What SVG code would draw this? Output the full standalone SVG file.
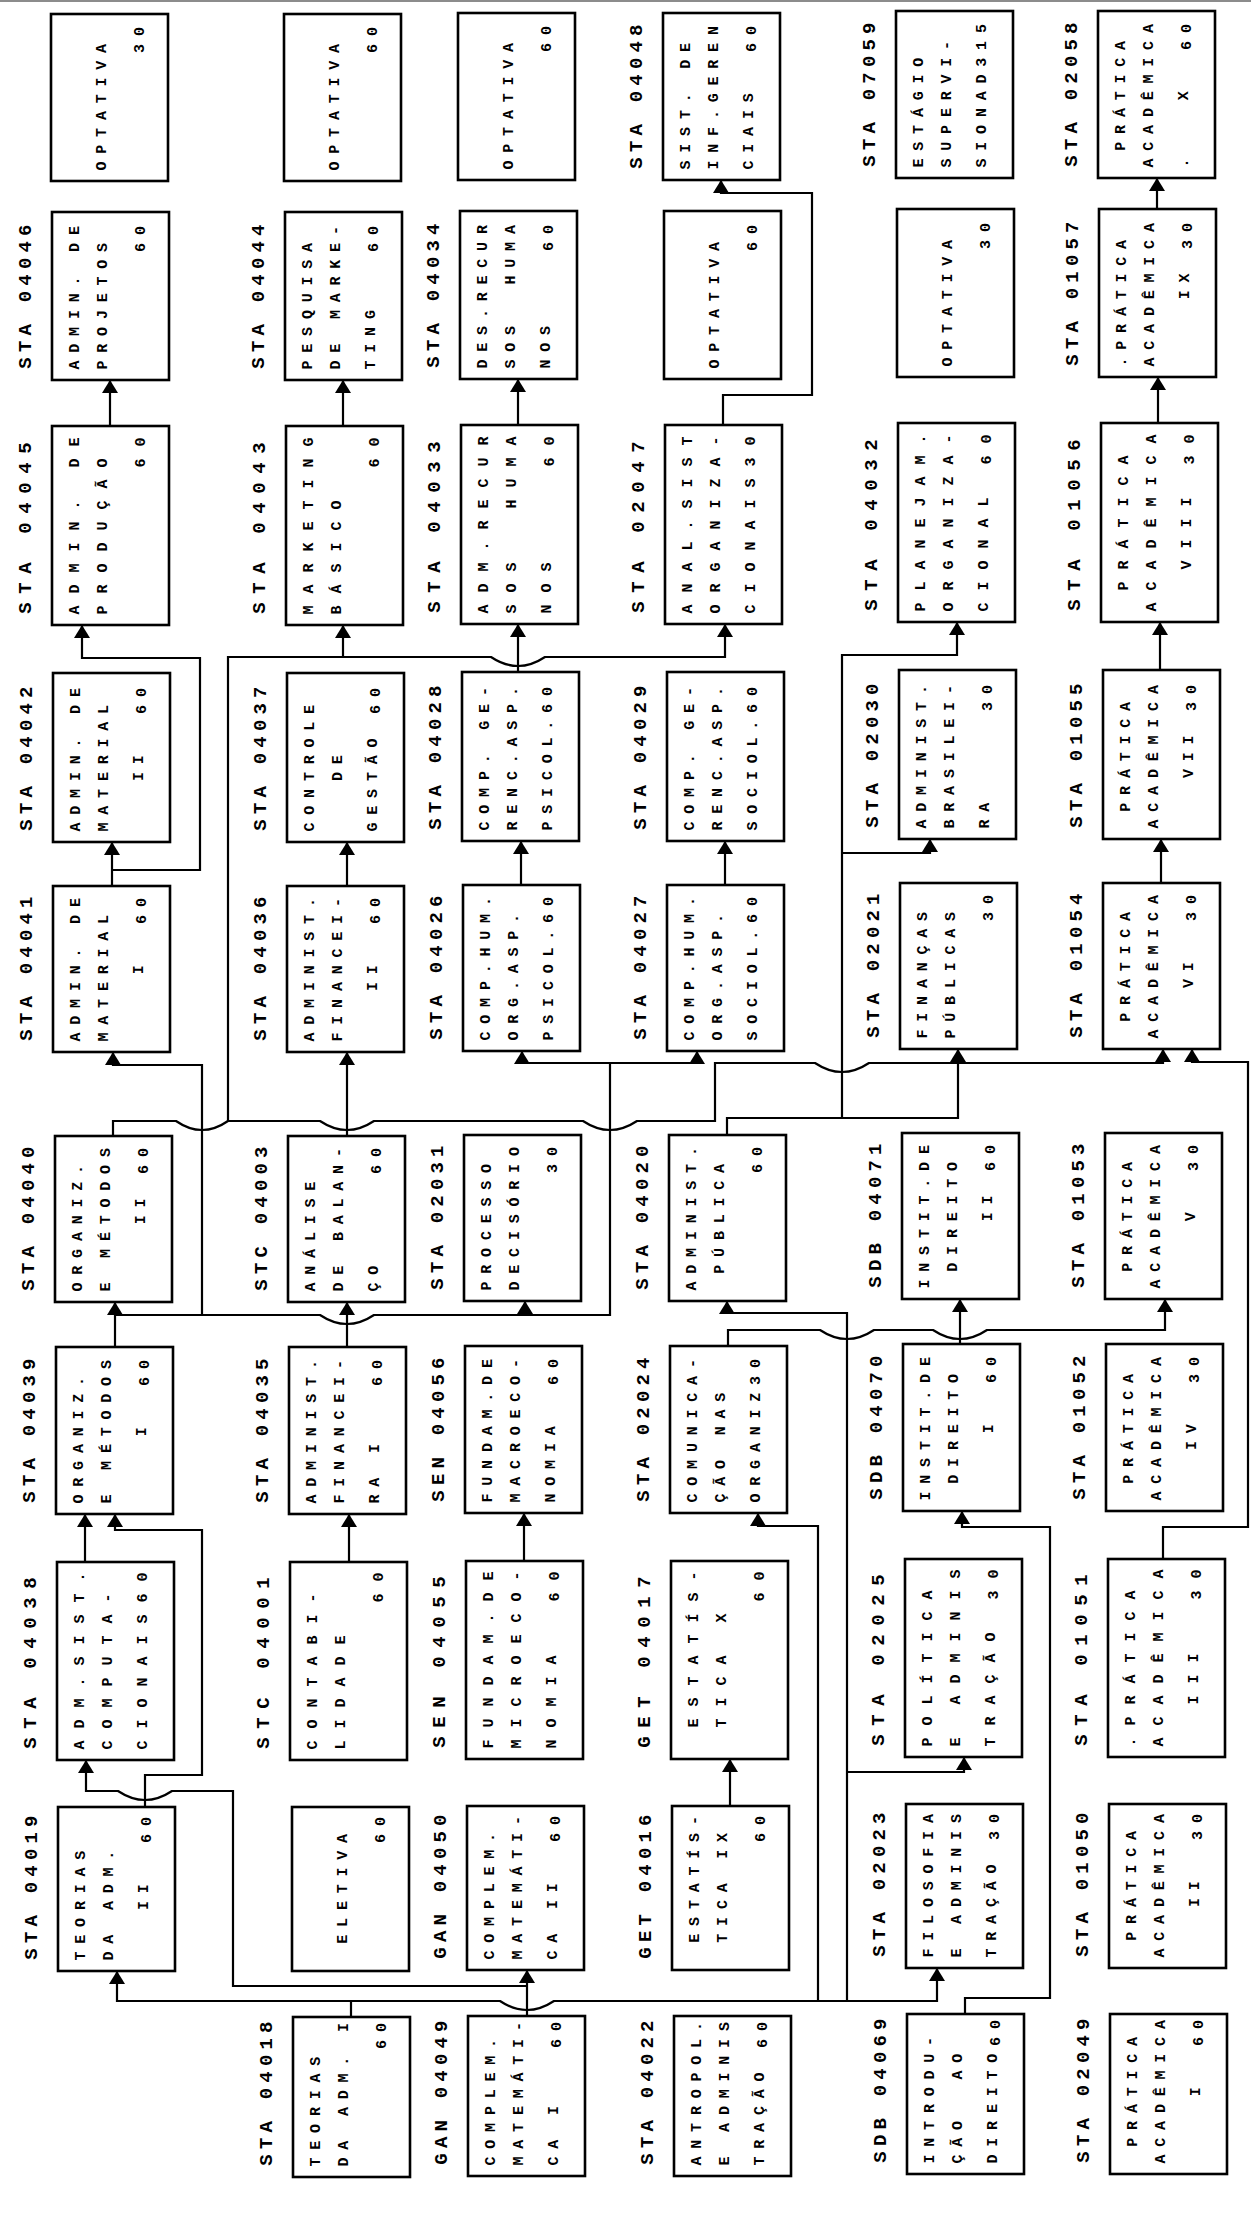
<svg xmlns="http://www.w3.org/2000/svg" xmlns:xlink="http://www.w3.org/1999/xlink" width="1251" height="2221" viewBox="0 0 1251 2221">
<style>
text{font-family:"Liberation Mono","DejaVu Sans Mono",monospace;font-weight:bold;fill:#000;white-space:pre}
.t{font-size:15px;letter-spacing:7.8px}
.tt{font-size:15px;letter-spacing:12px}
.l{font-size:19px;letter-spacing:5.2px}
.lt{font-size:19px;letter-spacing:8.6px}
.b{fill:#fff;stroke:#000;stroke-width:2.6}
.c{fill:none;stroke:#000;stroke-width:2.2}
</style>
<defs><path id="ah" d="M0,0 L-8,13 L8,13 Z" fill="#000"/></defs>
<rect x="0" y="0" width="1251" height="2221" fill="#fff"/>
<line x1="0" y1="1" x2="1251" y2="1" stroke="#666" stroke-width="1.5"/>

<g id="connectors">
<path class="c" d="M110,426V380"/>
<path class="c" d="M343,426V380"/>
<path class="c" d="M518,425V379"/>
<path class="c" d="M723,425V395H812V193H721V180"/>
<path class="c" d="M1158,423V377"/>
<path class="c" d="M1157,209V178"/>
<path class="c" d="M112,886V842"/>
<path class="c" d="M112,870H200V658H82V625"/>
<path class="c" d="M113,1136V1121H176Q202,1139 228,1121H320Q347,1139 374,1121H583Q610,1139 637,1121H715V1063H815Q842,1081 869,1063H1163V1049"/>
<path class="c" d="M958,1063V1049"/>
<path class="c" d="M228,1121V657H491Q518,675 545,657H725V624"/>
<path class="c" d="M343,657V625"/>
<path class="c" d="M727,1135V1118H958V1063"/>
<path class="c" d="M842,1118V655H957V622"/>
<path class="c" d="M842,853H930V839"/>
<path class="c" d="M347,1136V1052"/>
<path class="c" d="M347,886V842"/>
<path class="c" d="M115,1347V1302"/>
<path class="c" d="M115,1315H320Q347,1333 374,1315H610V1063H522V1051"/>
<path class="c" d="M525,1315V1301"/>
<path class="c" d="M610,1063H697V1051"/>
<path class="c" d="M202,1315V1065H113V1052"/>
<path class="c" d="M347,1347V1302"/>
<path class="c" d="M349,1562V1514"/>
<path class="c" d="M524,1561V1513"/>
<path class="c" d="M730,1806V1759"/>
<path class="c" d="M527,2016V1970"/>
<path class="c" d="M527,1986H233V1791H172Q145,1809 118,1791H86V1760"/>
<path class="c" d="M145,1807V1775H202V1530H115V1514"/>
<path class="c" d="M85,1562V1514"/>
<path class="c" d="M351,2017V2001H117V1971"/>
<path class="c" d="M351,2001H500Q527,2019 554,2001H937V1968"/>
<path class="c" d="M818,2001V1526H758V1513"/>
<path class="c" d="M847,2001V1313H727V1301"/>
<path class="c" d="M847,1772H964V1757"/>
<path class="c" d="M728,1346V1330H820Q847,1348 874,1330H933Q960,1348 987,1330H1165V1299"/>
<path class="c" d="M960,1344V1299"/>
<path class="c" d="M965,2014V1998H1050V1527H962V1511"/>
<path class="c" d="M1163,1559V1527H1248V1062H1192V1049"/>
<path class="c" d="M1161,883V839"/>
<path class="c" d="M1160,670V622"/>
<path class="c" d="M521,885V841"/>
<path class="c" d="M725,885V841"/>
<path class="c" d="M518,672V624"/>
<use href="#ah" x="110" y="380"/><use href="#ah" x="343" y="380"/><use href="#ah" x="518" y="379"/>
<use href="#ah" x="721" y="180"/><use href="#ah" x="1158" y="377"/><use href="#ah" x="1157" y="178"/>
<use href="#ah" x="112" y="842"/><use href="#ah" x="82" y="625"/>
<use href="#ah" x="1163" y="1049"/><use href="#ah" x="958" y="1049"/>
<use href="#ah" x="725" y="624"/><use href="#ah" x="343" y="625"/>
<use href="#ah" x="957" y="622"/><use href="#ah" x="930" y="839"/>
<use href="#ah" x="347" y="1052"/><use href="#ah" x="347" y="842"/>
<use href="#ah" x="115" y="1302"/><use href="#ah" x="525" y="1301"/><use href="#ah" x="522" y="1051"/>
<use href="#ah" x="697" y="1051"/><use href="#ah" x="113" y="1052"/><use href="#ah" x="347" y="1302"/>
<use href="#ah" x="349" y="1514"/><use href="#ah" x="524" y="1513"/><use href="#ah" x="730" y="1759"/>
<use href="#ah" x="527" y="1970"/><use href="#ah" x="86" y="1760"/><use href="#ah" x="115" y="1514"/>
<use href="#ah" x="85" y="1514"/><use href="#ah" x="117" y="1971"/><use href="#ah" x="937" y="1968"/>
<use href="#ah" x="758" y="1513"/><use href="#ah" x="727" y="1301"/><use href="#ah" x="964" y="1757"/>
<use href="#ah" x="1165" y="1299"/><use href="#ah" x="960" y="1299"/><use href="#ah" x="962" y="1511"/>
<use href="#ah" x="1192" y="1049"/><use href="#ah" x="1161" y="839"/><use href="#ah" x="1160" y="622"/>
<use href="#ah" x="521" y="841"/><use href="#ah" x="725" y="841"/><use href="#ah" x="518" y="624"/>
</g>

<!-- Row 10 -->
<g id="r10c1"><rect class="b" x="51" y="14" width="117" height="167"/>
<text class="t" transform="translate(106 170.5) rotate(-90)">OPTATIVA</text>
<text class="t" transform="translate(144 52.9) rotate(-90)">30</text></g>
<g id="r10c2"><rect class="b" x="284" y="14" width="117" height="167"/>
<text class="t" transform="translate(339 170.5) rotate(-90)">OPTATIVA</text>
<text class="t" transform="translate(377 52.9) rotate(-90)">60</text></g>
<g id="r10c3"><rect class="b" x="458" y="13" width="117" height="167"/>
<text class="t" transform="translate(513 169.5) rotate(-90)">OPTATIVA</text>
<text class="t" transform="translate(551 51.9) rotate(-90)">60</text></g>
<g id="sta04048"><rect class="b" x="663" y="13" width="117" height="167"/>
<text class="l" transform="translate(642 168.7) rotate(-90)">STA 04048</text>
<text class="t" transform="translate(690 169.5) rotate(-90)">SIST. DE</text>
<text class="t" transform="translate(718 169.5) rotate(-90)">INF.GEREN</text>
<text class="t" transform="translate(753 169.5) rotate(-90)">CIAIS</text>
<text class="t" transform="translate(756 51.9) rotate(-90)">60</text></g>
<g id="sta07059"><rect class="b" x="896" y="11" width="117" height="167"/>
<text class="l" transform="translate(875 166.7) rotate(-90)">STA 07059</text>
<text class="t" transform="translate(923 167.5) rotate(-90)">ESTÁGIO</text>
<text class="t" transform="translate(951 167.5) rotate(-90)">SUPERVI-</text>
<text class="t" transform="translate(986 167.5) rotate(-90)">SIONAD315</text></g>
<g id="sta02058"><rect class="b" x="1098" y="11" width="117" height="167"/>
<text class="l" transform="translate(1077 166.7) rotate(-90)">STA 02058</text>
<text class="t" transform="translate(1125 150.7) rotate(-90)">PRÁTICA</text>
<text class="t" transform="translate(1153 167.5) rotate(-90)">ACADÊMICA</text>
<text class="t" transform="translate(1188 167.5) rotate(-90)">.</text>
<text class="t" transform="translate(1188 100.3) rotate(-90)">X</text>
<text class="t" transform="translate(1191 49.9) rotate(-90)">60</text></g>

<!-- Row 9 -->
<g id="sta04046"><rect class="b" x="52" y="212" width="117" height="168"/>
<text class="l" transform="translate(31 368.7) rotate(-90)">STA 04046</text>
<text class="t" transform="translate(79 369.5) rotate(-90)">ADMIN. DE</text>
<text class="t" transform="translate(107 369.5) rotate(-90)">PROJETOS</text>
<text class="t" transform="translate(145 251.9) rotate(-90)">60</text></g>
<g id="sta04044"><rect class="b" x="285" y="212" width="117" height="168"/>
<text class="l" transform="translate(264 368.7) rotate(-90)">STA 04044</text>
<text class="t" transform="translate(312 369.5) rotate(-90)">PESQUISA</text>
<text class="t" transform="translate(340 369.5) rotate(-90)">DE MARKE-</text>
<text class="t" transform="translate(375 369.5) rotate(-90)">TING</text>
<text class="t" transform="translate(378 251.9) rotate(-90)">60</text></g>
<g id="sta04034"><rect class="b" x="460" y="211" width="117" height="168"/>
<text class="l" transform="translate(439 367.7) rotate(-90)">STA 04034</text>
<text class="t" transform="translate(487 368.5) rotate(-90)">DES.RECUR</text>
<text class="t" transform="translate(515 368.5) rotate(-90)">SOS</text>
<text class="t" transform="translate(515 284.5) rotate(-90)">HUMA</text>
<text class="t" transform="translate(550 368.5) rotate(-90)">NOS</text>
<text class="t" transform="translate(553 250.9) rotate(-90)">60</text></g>
<g id="r9c4"><rect class="b" x="664" y="211" width="117" height="168"/>
<text class="t" transform="translate(719 368.5) rotate(-90)">OPTATIVA</text>
<text class="t" transform="translate(757 250.9) rotate(-90)">60</text></g>
<g id="r9c5"><rect class="b" x="897" y="209" width="117" height="168"/>
<text class="t" transform="translate(952 366.5) rotate(-90)">OPTATIVA</text>
<text class="t" transform="translate(990 248.9) rotate(-90)">30</text></g>
<g id="sta01057"><rect class="b" x="1099" y="209" width="117" height="168"/>
<text class="l" transform="translate(1078 365.7) rotate(-90)">STA 01057</text>
<text class="t" transform="translate(1126 366.5) rotate(-90)">.PRÁTICA</text>
<text class="t" transform="translate(1154 366.5) rotate(-90)">ACADÊMICA</text>
<text class="t" transform="translate(1189 299.3) rotate(-90)">IX</text>
<text class="t" transform="translate(1192 248.9) rotate(-90)">30</text></g>

<!-- Row 8 (tall) -->
<g id="sta04045"><rect class="b" x="52" y="426" width="117" height="199"/>
<text class="lt" transform="translate(31 613.7) rotate(-90)">STA 04045</text>
<text class="tt" transform="translate(79 614.5) rotate(-90)">ADMIN. DE</text>
<text class="tt" transform="translate(107 614.5) rotate(-90)">PRODUÇÃO</text>
<text class="tt" transform="translate(145 467.5) rotate(-90)">60</text></g>
<g id="sta04043"><rect class="b" x="286" y="426" width="117" height="199"/>
<text class="lt" transform="translate(265 613.7) rotate(-90)">STA 04043</text>
<text class="tt" transform="translate(313 614.5) rotate(-90)">MARKETING</text>
<text class="tt" transform="translate(341 614.5) rotate(-90)">BÁSICO</text>
<text class="tt" transform="translate(379 467.5) rotate(-90)">60</text></g>
<g id="sta04033"><rect class="b" x="461" y="425" width="117" height="199"/>
<text class="lt" transform="translate(440 612.7) rotate(-90)">STA 04033</text>
<text class="tt" transform="translate(488 613.5) rotate(-90)">ADM.RECUR</text>
<text class="tt" transform="translate(516 613.5) rotate(-90)">SOS</text>
<text class="tt" transform="translate(516 508.5) rotate(-90)">HUMA</text>
<text class="tt" transform="translate(551 613.5) rotate(-90)">NOS</text>
<text class="tt" transform="translate(554 466.5) rotate(-90)">60</text></g>
<g id="sta02047"><rect class="b" x="665" y="425" width="117" height="199"/>
<text class="lt" transform="translate(644 612.7) rotate(-90)">STA 02047</text>
<text class="tt" transform="translate(692 613.5) rotate(-90)">ANAL.SIST</text>
<text class="tt" transform="translate(720 613.5) rotate(-90)">ORGANIZA-</text>
<text class="tt" transform="translate(755 613.5) rotate(-90)">CIONAIS30</text></g>
<g id="sta04032"><rect class="b" x="898" y="423" width="117" height="199"/>
<text class="lt" transform="translate(877 610.7) rotate(-90)">STA 04032</text>
<text class="tt" transform="translate(925 611.5) rotate(-90)">PLANEJAM.</text>
<text class="tt" transform="translate(953 611.5) rotate(-90)">ORGANIZA-</text>
<text class="tt" transform="translate(988 611.5) rotate(-90)">CIONAL</text>
<text class="tt" transform="translate(991 464.5) rotate(-90)">60</text></g>
<g id="sta01056"><rect class="b" x="1101" y="423" width="117" height="199"/>
<text class="lt" transform="translate(1080 610.7) rotate(-90)">STA 01056</text>
<text class="tt" transform="translate(1128 590.5) rotate(-90)">PRÁTICA</text>
<text class="tt" transform="translate(1156 611.5) rotate(-90)">ACADÊMICA</text>
<text class="tt" transform="translate(1191 569.5) rotate(-90)">VIII</text>
<text class="tt" transform="translate(1194 464.5) rotate(-90)">30</text></g>

<!-- Row 7 -->
<g id="sta04042"><rect class="b" x="53" y="673" width="117" height="169"/>
<text class="l" transform="translate(32 830.7) rotate(-90)">STA 04042</text>
<text class="t" transform="translate(80 831.5) rotate(-90)">ADMIN. DE</text>
<text class="t" transform="translate(108 831.5) rotate(-90)">MATERIAL</text>
<text class="t" transform="translate(143 781.1) rotate(-90)">II</text>
<text class="t" transform="translate(146 713.9) rotate(-90)">60</text></g>
<g id="sta04037"><rect class="b" x="287" y="673" width="117" height="169"/>
<text class="l" transform="translate(266 830.7) rotate(-90)">STA 04037</text>
<text class="t" transform="translate(314 831.5) rotate(-90)">CONTROLE</text>
<text class="t" transform="translate(342 781.1) rotate(-90)">DE</text>
<text class="t" transform="translate(377 831.5) rotate(-90)">GESTÃO</text>
<text class="t" transform="translate(380 713.9) rotate(-90)">60</text></g>
<g id="sta04028"><rect class="b" x="462" y="672" width="117" height="169"/>
<text class="l" transform="translate(441 829.7) rotate(-90)">STA 04028</text>
<text class="t" transform="translate(489 830.5) rotate(-90)">COMP. GE-</text>
<text class="t" transform="translate(517 830.5) rotate(-90)">RENC.ASP.</text>
<text class="t" transform="translate(552 830.5) rotate(-90)">PSICOL.60</text></g>
<g id="sta04029"><rect class="b" x="667" y="672" width="117" height="169"/>
<text class="l" transform="translate(646 829.7) rotate(-90)">STA 04029</text>
<text class="t" transform="translate(694 830.5) rotate(-90)">COMP. GE-</text>
<text class="t" transform="translate(722 830.5) rotate(-90)">RENC.ASP.</text>
<text class="t" transform="translate(757 830.5) rotate(-90)">SOCIOL.60</text></g>
<g id="sta02030"><rect class="b" x="899" y="670" width="117" height="169"/>
<text class="l" transform="translate(878 827.7) rotate(-90)">STA 02030</text>
<text class="t" transform="translate(926 828.5) rotate(-90)">ADMINIST.</text>
<text class="t" transform="translate(954 828.5) rotate(-90)">BRASILEI-</text>
<text class="t" transform="translate(989 828.5) rotate(-90)">RA</text>
<text class="t" transform="translate(992 710.9) rotate(-90)">30</text></g>
<g id="sta01055"><rect class="b" x="1103" y="670" width="117" height="169"/>
<text class="l" transform="translate(1082 827.7) rotate(-90)">STA 01055</text>
<text class="t" transform="translate(1130 811.7) rotate(-90)">PRÁTICA</text>
<text class="t" transform="translate(1158 828.5) rotate(-90)">ACADÊMICA</text>
<text class="t" transform="translate(1193 778.1) rotate(-90)">VII</text>
<text class="t" transform="translate(1196 710.9) rotate(-90)">30</text></g>

<!-- Row 6 -->
<g id="sta04041"><rect class="b" x="53" y="886" width="117" height="166"/>
<text class="l" transform="translate(32 1040.7) rotate(-90)">STA 04041</text>
<text class="t" transform="translate(80 1041.5) rotate(-90)">ADMIN. DE</text>
<text class="t" transform="translate(108 1041.5) rotate(-90)">MATERIAL</text>
<text class="t" transform="translate(143 974.3) rotate(-90)">I</text>
<text class="t" transform="translate(146 923.9) rotate(-90)">60</text></g>
<g id="sta04036"><rect class="b" x="287" y="886" width="117" height="166"/>
<text class="l" transform="translate(266 1040.7) rotate(-90)">STA 04036</text>
<text class="t" transform="translate(314 1041.5) rotate(-90)">ADMINIST.</text>
<text class="t" transform="translate(342 1041.5) rotate(-90)">FINANCEI-</text>
<text class="t" transform="translate(377 991.1) rotate(-90)">II</text>
<text class="t" transform="translate(380 923.9) rotate(-90)">60</text></g>
<g id="sta04026"><rect class="b" x="463" y="885" width="117" height="166"/>
<text class="l" transform="translate(442 1039.7) rotate(-90)">STA 04026</text>
<text class="t" transform="translate(490 1040.5) rotate(-90)">COMP.HUM.</text>
<text class="t" transform="translate(518 1040.5) rotate(-90)">ORG.ASP.</text>
<text class="t" transform="translate(553 1040.5) rotate(-90)">PSICOL.60</text></g>
<g id="sta04027"><rect class="b" x="667" y="885" width="117" height="166"/>
<text class="l" transform="translate(646 1039.7) rotate(-90)">STA 04027</text>
<text class="t" transform="translate(694 1040.5) rotate(-90)">COMP.HUM.</text>
<text class="t" transform="translate(722 1040.5) rotate(-90)">ORG.ASP.</text>
<text class="t" transform="translate(757 1040.5) rotate(-90)">SOCIOL.60</text></g>
<g id="sta02021"><rect class="b" x="900" y="883" width="117" height="166"/>
<text class="l" transform="translate(879 1037.7) rotate(-90)">STA 02021</text>
<text class="t" transform="translate(927 1038.5) rotate(-90)">FINANÇAS</text>
<text class="t" transform="translate(955 1038.5) rotate(-90)">PÚBLICAS</text>
<text class="t" transform="translate(993 920.9) rotate(-90)">30</text></g>
<g id="sta01054"><rect class="b" x="1103" y="883" width="117" height="166"/>
<text class="l" transform="translate(1082 1037.7) rotate(-90)">STA 01054</text>
<text class="t" transform="translate(1130 1021.7) rotate(-90)">PRÁTICA</text>
<text class="t" transform="translate(1158 1038.5) rotate(-90)">ACADÊMICA</text>
<text class="t" transform="translate(1193 988.1) rotate(-90)">VI</text>
<text class="t" transform="translate(1196 920.9) rotate(-90)">30</text></g>

<!-- Row 5 -->
<g id="sta04040"><rect class="b" x="55" y="1136" width="117" height="166"/>
<text class="l" transform="translate(34 1290.7) rotate(-90)">STA 04040</text>
<text class="t" transform="translate(82 1291.5) rotate(-90)">ORGANIZ.</text>
<text class="t" transform="translate(110 1291.5) rotate(-90)">E MÉTODOS</text>
<text class="t" transform="translate(145 1224.3) rotate(-90)">II</text>
<text class="t" transform="translate(148 1173.9) rotate(-90)">60</text></g>
<g id="stc04003"><rect class="b" x="288" y="1136" width="117" height="166"/>
<text class="l" transform="translate(267 1290.7) rotate(-90)">STC 04003</text>
<text class="t" transform="translate(315 1291.5) rotate(-90)">ANÁLISE</text>
<text class="t" transform="translate(343 1291.5) rotate(-90)">DE BALAN-</text>
<text class="t" transform="translate(378 1291.5) rotate(-90)">ÇO</text>
<text class="t" transform="translate(381 1173.9) rotate(-90)">60</text></g>
<g id="sta02031"><rect class="b" x="464" y="1135" width="117" height="166"/>
<text class="l" transform="translate(443 1289.7) rotate(-90)">STA 02031</text>
<text class="t" transform="translate(491 1290.5) rotate(-90)">PROCESSO</text>
<text class="t" transform="translate(519 1290.5) rotate(-90)">DECISÓRIO</text>
<text class="t" transform="translate(557 1172.9) rotate(-90)">30</text></g>
<g id="sta04020"><rect class="b" x="669" y="1135" width="117" height="166"/>
<text class="l" transform="translate(648 1289.7) rotate(-90)">STA 04020</text>
<text class="t" transform="translate(696 1290.5) rotate(-90)">ADMINIST.</text>
<text class="t" transform="translate(724 1273.7) rotate(-90)">PÚBLICA</text>
<text class="t" transform="translate(762 1172.9) rotate(-90)">60</text></g>
<g id="sdb04071"><rect class="b" x="902" y="1133" width="117" height="166"/>
<text class="l" transform="translate(881 1287.7) rotate(-90)">SDB 04071</text>
<text class="t" transform="translate(929 1288.5) rotate(-90)">INSTIT.DE</text>
<text class="t" transform="translate(957 1271.7) rotate(-90)">DIREITO</text>
<text class="t" transform="translate(992 1221.3) rotate(-90)">II</text>
<text class="t" transform="translate(995 1170.9) rotate(-90)">60</text></g>
<g id="sta01053"><rect class="b" x="1105" y="1133" width="117" height="166"/>
<text class="l" transform="translate(1084 1287.7) rotate(-90)">STA 01053</text>
<text class="t" transform="translate(1132 1271.7) rotate(-90)">PRÁTICA</text>
<text class="t" transform="translate(1160 1288.5) rotate(-90)">ACADÊMICA</text>
<text class="t" transform="translate(1195 1221.3) rotate(-90)">V</text>
<text class="t" transform="translate(1198 1170.9) rotate(-90)">30</text></g>

<!-- Row 4 -->
<g id="sta04039"><rect class="b" x="56" y="1347" width="117" height="167"/>
<text class="l" transform="translate(35 1502.7) rotate(-90)">STA 04039</text>
<text class="t" transform="translate(83 1503.5) rotate(-90)">ORGANIZ.</text>
<text class="t" transform="translate(111 1503.5) rotate(-90)">E MÉTODOS</text>
<text class="t" transform="translate(146 1436.3) rotate(-90)">I</text>
<text class="t" transform="translate(149 1385.9) rotate(-90)">60</text></g>
<g id="sta04035"><rect class="b" x="289" y="1347" width="117" height="167"/>
<text class="l" transform="translate(268 1502.7) rotate(-90)">STA 04035</text>
<text class="t" transform="translate(316 1503.5) rotate(-90)">ADMINIST.</text>
<text class="t" transform="translate(344 1503.5) rotate(-90)">FINANCEI-</text>
<text class="t" transform="translate(379 1503.5) rotate(-90)">RA I</text>
<text class="t" transform="translate(382 1385.9) rotate(-90)">60</text></g>
<g id="sen04056"><rect class="b" x="465" y="1346" width="117" height="167"/>
<text class="l" transform="translate(444 1501.7) rotate(-90)">SEN 04056</text>
<text class="t" transform="translate(492 1502.5) rotate(-90)">FUNDAM.DE</text>
<text class="t" transform="translate(520 1502.5) rotate(-90)">MACROECO-</text>
<text class="t" transform="translate(555 1502.5) rotate(-90)">NOMIA</text>
<text class="t" transform="translate(558 1384.9) rotate(-90)">60</text></g>
<g id="sta02024"><rect class="b" x="670" y="1346" width="117" height="167"/>
<text class="l" transform="translate(649 1501.7) rotate(-90)">STA 02024</text>
<text class="t" transform="translate(697 1502.5) rotate(-90)">COMUNICA-</text>
<text class="t" transform="translate(725 1502.5) rotate(-90)">ÇÃO NAS</text>
<text class="t" transform="translate(760 1502.5) rotate(-90)">ORGANIZ30</text></g>
<g id="sdb04070"><rect class="b" x="903" y="1344" width="117" height="167"/>
<text class="l" transform="translate(882 1499.7) rotate(-90)">SDB 04070</text>
<text class="t" transform="translate(930 1500.5) rotate(-90)">INSTIT.DE</text>
<text class="t" transform="translate(958 1483.7) rotate(-90)">DIREITO</text>
<text class="t" transform="translate(993 1433.3) rotate(-90)">I</text>
<text class="t" transform="translate(996 1382.9) rotate(-90)">60</text></g>
<g id="sta01052"><rect class="b" x="1106" y="1344" width="117" height="167"/>
<text class="l" transform="translate(1085 1499.7) rotate(-90)">STA 01052</text>
<text class="t" transform="translate(1133 1483.7) rotate(-90)">PRÁTICA</text>
<text class="t" transform="translate(1161 1500.5) rotate(-90)">ACADÊMICA</text>
<text class="t" transform="translate(1196 1450.1) rotate(-90)">IV</text>
<text class="t" transform="translate(1199 1382.9) rotate(-90)">30</text></g>

<!-- Row 3 (tall) -->
<g id="sta04038"><rect class="b" x="57" y="1562" width="117" height="198"/>
<text class="lt" transform="translate(36 1748.7) rotate(-90)">STA 04038</text>
<text class="tt" transform="translate(84 1749.5) rotate(-90)">ADM.SIST.</text>
<text class="tt" transform="translate(112 1749.5) rotate(-90)">COMPUTA-</text>
<text class="tt" transform="translate(147 1749.5) rotate(-90)">CIONAIS60</text></g>
<g id="stc04001"><rect class="b" x="290" y="1562" width="117" height="198"/>
<text class="lt" transform="translate(269 1748.7) rotate(-90)">STC 04001</text>
<text class="tt" transform="translate(317 1749.5) rotate(-90)">CONTABI-</text>
<text class="tt" transform="translate(345 1749.5) rotate(-90)">LIDADE</text>
<text class="tt" transform="translate(383 1602.5) rotate(-90)">60</text></g>
<g id="sen04055"><rect class="b" x="466" y="1561" width="117" height="198"/>
<text class="lt" transform="translate(445 1747.7) rotate(-90)">SEN 04055</text>
<text class="tt" transform="translate(493 1748.5) rotate(-90)">FUNDAM.DE</text>
<text class="tt" transform="translate(521 1748.5) rotate(-90)">MICROECO-</text>
<text class="tt" transform="translate(556 1748.5) rotate(-90)">NOMIA</text>
<text class="tt" transform="translate(559 1601.5) rotate(-90)">60</text></g>
<g id="get04017"><rect class="b" x="671" y="1561" width="117" height="198"/>
<text class="lt" transform="translate(650 1747.7) rotate(-90)">GET 04017</text>
<text class="tt" transform="translate(698 1727.5) rotate(-90)">ESTATÍS-</text>
<text class="tt" transform="translate(726 1727.5) rotate(-90)">TICA X</text>
<text class="tt" transform="translate(764 1601.5) rotate(-90)">60</text></g>
<g id="sta02025"><rect class="b" x="905" y="1559" width="117" height="198"/>
<text class="lt" transform="translate(884 1745.7) rotate(-90)">STA 02025</text>
<text class="tt" transform="translate(932 1746.5) rotate(-90)">POLÍTICA</text>
<text class="tt" transform="translate(960 1746.5) rotate(-90)">E ADMINIS</text>
<text class="tt" transform="translate(995 1746.5) rotate(-90)">TRAÇÃO</text>
<text class="tt" transform="translate(998 1599.5) rotate(-90)">30</text></g>
<g id="sta01051"><rect class="b" x="1108" y="1559" width="117" height="198"/>
<text class="lt" transform="translate(1087 1745.7) rotate(-90)">STA 01051</text>
<text class="tt" transform="translate(1135 1746.5) rotate(-90)">.PRÁTICA</text>
<text class="tt" transform="translate(1163 1746.5) rotate(-90)">ACADÊMICA</text>
<text class="tt" transform="translate(1198 1704.5) rotate(-90)">III</text>
<text class="tt" transform="translate(1201 1599.5) rotate(-90)">30</text></g>

<!-- Row 2 -->
<g id="sta04019"><rect class="b" x="58" y="1807" width="117" height="164"/>
<text class="l" transform="translate(37 1959.7) rotate(-90)">STA 04019</text>
<text class="t" transform="translate(85 1960.5) rotate(-90)">TEORIAS</text>
<text class="t" transform="translate(113 1960.5) rotate(-90)">DA ADM.</text>
<text class="t" transform="translate(148 1910.1) rotate(-90)">II</text>
<text class="t" transform="translate(151 1842.9) rotate(-90)">60</text></g>
<g id="r2c2"><rect class="b" x="292" y="1807" width="117" height="164"/>
<text class="t" transform="translate(347 1943.7) rotate(-90)">ELETIVA</text>
<text class="t" transform="translate(385 1842.9) rotate(-90)">60</text></g>
<g id="gan04050"><rect class="b" x="467" y="1806" width="117" height="164"/>
<text class="l" transform="translate(446 1958.7) rotate(-90)">GAN 04050</text>
<text class="t" transform="translate(494 1959.5) rotate(-90)">COMPLEM.</text>
<text class="t" transform="translate(522 1959.5) rotate(-90)">MATEMÁTI-</text>
<text class="t" transform="translate(557 1959.5) rotate(-90)">CA II</text>
<text class="t" transform="translate(560 1841.9) rotate(-90)">60</text></g>
<g id="get04016"><rect class="b" x="672" y="1806" width="117" height="164"/>
<text class="l" transform="translate(651 1958.7) rotate(-90)">GET 04016</text>
<text class="t" transform="translate(699 1942.7) rotate(-90)">ESTATÍS-</text>
<text class="t" transform="translate(727 1942.7) rotate(-90)">TICA IX</text>
<text class="t" transform="translate(765 1841.9) rotate(-90)">60</text></g>
<g id="sta02023"><rect class="b" x="906" y="1804" width="117" height="164"/>
<text class="l" transform="translate(885 1956.7) rotate(-90)">STA 02023</text>
<text class="t" transform="translate(933 1957.5) rotate(-90)">FILOSOFIA</text>
<text class="t" transform="translate(961 1957.5) rotate(-90)">E ADMINIS</text>
<text class="t" transform="translate(996 1957.5) rotate(-90)">TRAÇÃO</text>
<text class="t" transform="translate(999 1839.9) rotate(-90)">30</text></g>
<g id="sta01050"><rect class="b" x="1109" y="1804" width="117" height="164"/>
<text class="l" transform="translate(1088 1956.7) rotate(-90)">STA 01050</text>
<text class="t" transform="translate(1136 1940.7) rotate(-90)">PRÁTICA</text>
<text class="t" transform="translate(1164 1957.5) rotate(-90)">ACADÊMICA</text>
<text class="t" transform="translate(1199 1907.1) rotate(-90)">II</text>
<text class="t" transform="translate(1202 1839.9) rotate(-90)">30</text></g>

<!-- Row 1 -->
<g id="sta04018"><rect class="b" x="293" y="2017" width="117" height="160"/>
<text class="l" transform="translate(272 2165.7) rotate(-90)">STA 04018</text>
<text class="t" transform="translate(320 2166.5) rotate(-90)">TEORIAS</text>
<text class="t" transform="translate(348 2166.5) rotate(-90)">DA ADM. I</text>
<text class="t" transform="translate(386 2048.9) rotate(-90)">60</text></g>
<g id="gan04049"><rect class="b" x="468" y="2016" width="117" height="160"/>
<text class="l" transform="translate(447 2164.7) rotate(-90)">GAN 04049</text>
<text class="t" transform="translate(495 2165.5) rotate(-90)">COMPLEM.</text>
<text class="t" transform="translate(523 2165.5) rotate(-90)">MATEMÁTI-</text>
<text class="t" transform="translate(558 2165.5) rotate(-90)">CA I</text>
<text class="t" transform="translate(561 2047.9) rotate(-90)">60</text></g>
<g id="sta04022"><rect class="b" x="674" y="2016" width="117" height="160"/>
<text class="l" transform="translate(653 2164.7) rotate(-90)">STA 04022</text>
<text class="t" transform="translate(701 2165.5) rotate(-90)">ANTROPOL.</text>
<text class="t" transform="translate(729 2165.5) rotate(-90)">E ADMINIS</text>
<text class="t" transform="translate(764 2165.5) rotate(-90)">TRAÇÃO</text>
<text class="t" transform="translate(767 2047.9) rotate(-90)">60</text></g>
<g id="sdb04069"><rect class="b" x="907" y="2014" width="117" height="160"/>
<text class="l" transform="translate(886 2162.7) rotate(-90)">SDB 04069</text>
<text class="t" transform="translate(934 2163.5) rotate(-90)">INTRODU-</text>
<text class="t" transform="translate(962 2163.5) rotate(-90)">ÇÃO</text>
<text class="t" transform="translate(962 2079.5) rotate(-90)">AO</text>
<text class="t" transform="translate(997 2163.5) rotate(-90)">DIREITO</text>
<text class="t" transform="translate(1000 2045.9) rotate(-90)">60</text></g>
<g id="sta02049"><rect class="b" x="1110" y="2014" width="117" height="160"/>
<text class="l" transform="translate(1089 2162.7) rotate(-90)">STA 02049</text>
<text class="t" transform="translate(1137 2146.7) rotate(-90)">PRÁTICA</text>
<text class="t" transform="translate(1165 2163.5) rotate(-90)">ACADÊMICA</text>
<text class="t" transform="translate(1200 2096.3) rotate(-90)">I</text>
<text class="t" transform="translate(1203 2045.9) rotate(-90)">60</text></g>
</svg>
